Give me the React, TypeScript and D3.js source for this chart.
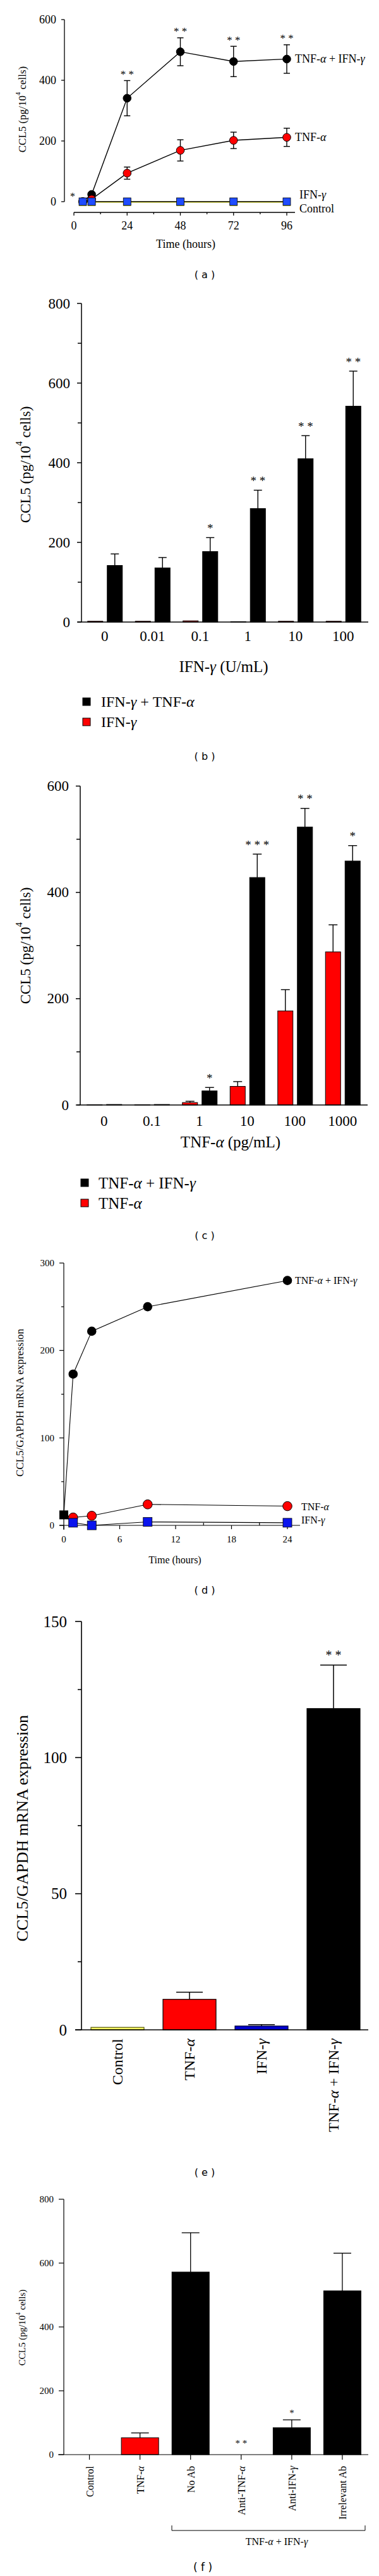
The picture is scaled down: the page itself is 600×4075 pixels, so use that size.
import React from "react";
import * as d3 from "d3";

const SERIF = "'Liberation Serif', 'Times New Roman', serif";
const SANS = "'DejaVu Sans', 'Liberation Sans', sans-serif";
const RED = "#ff0000";
const BLUE_A = "#1f4cff";
const BLUE_D = "#0a14ee";

// ---------- Panel (a): CCL5 protein over time ----------
const aTimes = [4, 8, 24, 48, 72, 96];
const aCombo = [0, 24, 341, 494, 462, 470];
const aComboErr = [0, 0, 58, 46, 50, 47];
const aComboStars = ["", "", "* *", "* *", "* *", "* *"];
const aTnf = [0, 8, 94, 169, 202, 212];
const aTnfErr = [0, 0, 20, 35, 27, 30];
const aIfn = [0, 0, 0, 0, 0, 0];
const aCtrl = [0, 0, 0, 0, 0, 0];
const aYTicks = [0, 200, 400, 600];
const aXTicks = [0, 24, 48, 72, 96];
const aXMinor = [12, 36, 60, 84];

// ---------- Panel (b): IFN-γ dose ----------
const bCats = ["0", "0.01", "0.1", "1", "10", "100"];
const bCombo = [142, 136, 177, 285, 410, 542];
const bComboErr = [29, 26, 35, 46, 58, 88];
const bIfn = [2, 2, 3, 1, 2, 2];
const bStars = ["", "", "*", "* *", "* *", "* *"];
const bYTicks = [0, 200, 400, 600, 800];
const bYMinor = [100, 300, 500, 700];

// ---------- Panel (c): TNF-α dose ----------
const cCats = ["0", "0.1", "1", "10", "100", "1000"];
const cTnf = [0.5, 0.5, 4.6, 35, 177, 288];
const cTnfErr = [0, 0, 2.4, 9, 40, 51];
const cCombo = [1, 1, 26.5, 428, 523, 459];
const cComboErr = [0, 0, 6.5, 44, 35, 29];
const cStars = ["", "", "*", "* * *", "* *", "*"];
const cYTicks = [0, 200, 400, 600];
const cYMinor = [100, 300, 500];

// ---------- Panel (d): mRNA over time ----------
const dTimes = [0, 1, 3, 9, 24];
const dCombo = [12, 173, 222, 250, 280];
const dTnf = [12, 9, 11, 24, 22];
const dIfn = [12, 3, 0, 4, 3];
const dYTicks = [0, 100, 200, 300];
const dYMinor = [50, 150, 250];
const dXTicks = [0, 6, 12, 18, 24];
const dXMinor = [3, 9, 15, 21];

// ---------- Panel (e): mRNA by treatment ----------
const eCats = ["Control", "TNF-α", "IFN-γ", "TNF-α + IFN-γ"];
const eVals = [0.9, 11.2, 1.4, 118];
const eErr = [0, 2.6, 0.5, 16];
const eColors = ["#ffff66", RED, "#0000cc", "#000000"];
const eStroke = ["#555500", "#000", "#000033", "#000"];
const eStars = ["", "", "", "* *"];
const eYTicks = [0, 50, 100, 150];
const eYMinor = [25, 75, 125];

// ---------- Panel (f): neutralising antibodies ----------
const fCats = ["Control", "TNF-α", "No Ab", "Anti-TNF-α", "Anti-IFN-γ", "Irrelevant Ab"];
const fVals = [0, 53, 572, 0, 84.5, 513];
const fErr = [0, 15, 123, 0, 24.5, 118];
const fColors = ["#000", RED, "#000", "#000", "#000", "#000"];
const fStars = ["", "", "", "* *", "*", ""];
const fStarVal = [0, 0, 0, 40, 135, 0];
const fYTicks = [0, 200, 400, 600, 800];

function G({ s }: { s: string }) {
  const parts = s.split(/([αγ])/);
  return (
    <>
      {parts.map((p, i) =>
        p === "α" || p === "γ" ? (
          <tspan key={i} fontStyle="italic">{p}</tspan>
        ) : p ? (
          <tspan key={i}>{p}</tspan>
        ) : null
      )}
    </>
  );
}

function CclLabel({ x, y, size }: { x: number; y: number; size: number }) {
  return (
    <text
      transform={`translate(${x},${y}) rotate(-90)`}
      textAnchor="middle"
      dominantBaseline="central"
      fontSize={size}
      fontFamily={SERIF}
    >
      CCL5 (pg/10
      <tspan dy={-size * 0.42} fontSize={size * 0.62}>4</tspan>
      <tspan dy={size * 0.42}> cells)</tspan>
    </text>
  );
}

function PanelLabel({ x, y, t }: { x: number; y: number; t: string }) {
  return (
    <text x={x} y={y} textAnchor="middle" dominantBaseline="central" fontFamily={SANS} fontSize={16}>
      {`( ${t} )`}
    </text>
  );
}

function Star({ x, y, s, fs }: { x: number; y: number; s: string; fs: number }) {
  return (
    <text x={x} y={y + fs * 0.5} textAnchor="middle" fontSize={fs} fontFamily={SERIF}>
      {s}
    </text>
  );
}

function PanelA() {
  const x = d3.scaleLinear().domain([0, 96]).range([117, 454]);
  const y = d3.scaleLinear().domain([0, 600]).range([319, 31]);
  const mk = (vals: number[]) =>
    d3.line<number>().x((_, i) => x(aTimes[i])).y((v) => y(v))(vals) || "";
  const fs = 18;
  const sw = 1.3;
  return (
    <g fontFamily={SERIF}>
      <line x1={102} x2={102} y1={y(600)} y2={y(0)} stroke="#000" strokeWidth={sw} />
      {aYTicks.map((t) => (
        <g key={t}>
          <line x1={97} x2={102} y1={y(t)} y2={y(t)} stroke="#000" strokeWidth={sw} />
          <text x={89} y={y(t)} textAnchor="end" dominantBaseline="central" fontSize={fs}>{t}</text>
        </g>
      ))}
      <line x1={x(0)} x2={467} y1={336} y2={336} stroke="#000" strokeWidth={sw} />
      {aXTicks.map((t) => (
        <g key={t}>
          <line x1={x(t)} x2={x(t)} y1={336} y2={341} stroke="#000" strokeWidth={sw} />
          <text x={x(t)} y={357} textAnchor="middle" dominantBaseline="central" fontSize={fs}>{t}</text>
        </g>
      ))}
      {aXMinor.map((t) => (
        <line key={t} x1={x(t)} x2={x(t)} y1={336} y2={339} stroke="#000" strokeWidth={sw} />
      ))}
      <text x={294} y={386} textAnchor="middle" dominantBaseline="central" fontSize={fs}>Time (hours)</text>
      <CclLabel x={35} y={173} size={17} />

      <path d={mk(aCtrl)} stroke="#d8d800" strokeWidth={1.6} fill="none" transform="translate(0,0.6)" />
      <path d={mk(aIfn)} stroke="#000" strokeWidth={1.3} fill="none" />
      <path d={mk(aTnf)} stroke="#000" strokeWidth={1.4} fill="none" />
      <path d={mk(aCombo)} stroke="#000" strokeWidth={1.4} fill="none" />

      {[{ v: aCombo, e: aComboErr }, { v: aTnf, e: aTnfErr }].map((s, k) =>
        s.v.map((v, i) =>
          s.e[i] > 0 ? (
            <g key={`${k}-${i}`} stroke="#000" strokeWidth={1.4}>
              <line x1={x(aTimes[i])} x2={x(aTimes[i])} y1={y(v - s.e[i])} y2={y(v + s.e[i])} />
              <line x1={x(aTimes[i]) - 5} x2={x(aTimes[i]) + 5} y1={y(v + s.e[i])} y2={y(v + s.e[i])} />
              <line x1={x(aTimes[i]) - 5} x2={x(aTimes[i]) + 5} y1={y(v - s.e[i])} y2={y(v - s.e[i])} />
            </g>
          ) : null
        )
      )}
      {aCombo.map((v, i) =>
        aComboStars[i] ? (
          <Star key={i} x={x(aTimes[i])} y={y(v + aComboErr[i]) - 13} s={aComboStars[i]} fs={17} />
        ) : null
      )}
      <Star x={115} y={308} s="*" fs={16} />

      {aCombo.map((v, i) => (
        <circle key={`c${i}`} cx={x(aTimes[i])} cy={y(v)} r={6.3} fill="#000" stroke="#000" />
      ))}
      {aTnf.map((v, i) => (
        <circle key={`t${i}`} cx={x(aTimes[i])} cy={y(v)} r={6.3} fill={RED} stroke="#000" strokeWidth={1} />
      ))}
      {aCtrl.map((v, i) => (
        <rect key={`k${i}`} x={x(aTimes[i]) - 6} y={y(v) - 5} width={12} height={12} fill="#e6e600" />
      ))}
      {aIfn.map((v, i) => (
        <rect key={`f${i}`} x={x(aTimes[i]) - 6} y={y(v) - 6} width={12} height={12} fill={BLUE_A} stroke="#000" strokeWidth={0.8} />
      ))}

      <text x={467} y={93} dominantBaseline="central" fontSize={fs}><G s="TNF-α + IFN-γ" /></text>
      <text x={467} y={217} dominantBaseline="central" fontSize={fs}><G s="TNF-α" /></text>
      <text x={474} y={308} dominantBaseline="central" fontSize={fs}><G s="IFN-γ" /></text>
      <text x={474} y={330} dominantBaseline="central" fontSize={fs}>Control</text>
      <PanelLabel x={324} y={434} t="a" />
    </g>
  );
}

function GroupedBars({
  cats, blackV, blackE, redV, redE, stars, yTicks, yMinor, domMax, y0, yTop, axisX, xr, fs, capW,
}: any) {
  const x = d3.scaleBand<string>().domain(cats).range(xr);
  const y = d3.scaleLinear().domain([0, domMax]).range([y0, yTop]);
  const c = (cat: string) => (x(cat) || 0) + x.bandwidth() / 2;
  const sw = 1.5;
  return (
    <g fontFamily={SERIF}>
      <line x1={axisX} x2={axisX} y1={yTop} y2={y0} stroke="#000" strokeWidth={sw} />
      {yTicks.map((t: number) => (
        <g key={t}>
          <line x1={axisX - 7} x2={axisX} y1={y(t)} y2={y(t)} stroke="#000" strokeWidth={sw} />
          <text x={axisX - 18} y={y(t)} textAnchor="end" dominantBaseline="central" fontSize={fs}>{t}</text>
        </g>
      ))}
      {yMinor.map((t: number) => (
        <line key={t} x1={axisX - 6} x2={axisX} y1={y(t)} y2={y(t)} stroke="#000" strokeWidth={sw} />
      ))}
      {cats.map((cat: string, i: number) => {
        const cx = c(cat);
        const rv = redV[i];
        const bv = blackV[i];
        const re = redE ? redE[i] : 0;
        const be = blackE[i];
        return (
          <g key={cat}>
            {re > 0 && (
              <g stroke="#000" strokeWidth={1.4}>
                <line x1={cx - 15} x2={cx - 15} y1={y(rv)} y2={y(rv + re)} />
                <line x1={cx - 15 - capW / 2} x2={cx - 15 + capW / 2} y1={y(rv + re)} y2={y(rv + re)} />
              </g>
            )}
            <rect x={cx - 27} y={y(rv)} width={24} height={y(0) - y(rv)} fill={RED} stroke="#000" strokeWidth={1} />
            {be > 0 && (
              <g stroke="#000" strokeWidth={1.4}>
                <line x1={cx + 16} x2={cx + 16} y1={y(bv)} y2={y(bv + be)} />
                <line x1={cx + 16 - capW / 2} x2={cx + 16 + capW / 2} y1={y(bv + be)} y2={y(bv + be)} />
              </g>
            )}
            <rect x={cx + 4} y={y(bv)} width={24} height={y(0) - y(bv)} fill="#000" stroke="#000" strokeWidth={1} />
            {stars[i] && <Star x={cx + 16} y={y(bv + be) - 18} s={stars[i]} fs={19} />}
          </g>
        );
      })}
      <line x1={xr[0] - 5} x2={xr[1] + 2} y1={y0} y2={y0} stroke="#000" strokeWidth={sw} />
    </g>
  );
}

function PanelB() {
  const x = d3.scaleBand<string>().domain(bCats).range([128, 581]);
  const fs = 23;
  return (
    <g fontFamily={SERIF}>
      <GroupedBars
        cats={bCats} blackV={bCombo} blackE={bComboErr} redV={bIfn} redE={null}
        stars={bStars} yTicks={bYTicks} yMinor={bYMinor} domMax={800}
        y0={984} yTop={480} axisX={129} xr={[128, 581]} fs={fs} capW={13}
      />
      {bCats.map((cat) => (
        <text key={cat} x={(x(cat) || 0) + x.bandwidth() / 2} y={1006} textAnchor="middle" dominantBaseline="central" fontSize={fs}>{cat}</text>
      ))}
      <text x={354} y={1054} textAnchor="middle" dominantBaseline="central" fontSize={25}><G s="IFN-γ (U/mL)" /></text>
      <CclLabel x={40} y={735} size={23} />
      <rect x={131} y={1104} width={12} height={12} fill="#000" stroke="#000" />
      <text x={160} y={1110} dominantBaseline="central" fontSize={24}><G s="IFN-γ + TNF-α" /></text>
      <rect x={131} y={1136} width={12} height={12} fill={RED} stroke="#000" />
      <text x={160} y={1142} dominantBaseline="central" fontSize={24}><G s="IFN-γ" /></text>
      <PanelLabel x={324} y={1196} t="b" />
    </g>
  );
}

function PanelC() {
  const x = d3.scaleBand<string>().domain(cCats).range([127, 580]);
  const fs = 23;
  return (
    <g fontFamily={SERIF}>
      <GroupedBars
        cats={cCats} blackV={cCombo} blackE={cComboErr} redV={cTnf} redE={cTnfErr}
        stars={cStars} yTicks={cYTicks} yMinor={cYMinor} domMax={600}
        y0={1748} yTop={1243.5} axisX={127} xr={[127, 580]} fs={fs} capW={14}
      />
      {cCats.map((cat) => (
        <text key={cat} x={(x(cat) || 0) + x.bandwidth() / 2} y={1773} textAnchor="middle" dominantBaseline="central" fontSize={fs}>{cat}</text>
      ))}
      <text x={365} y={1806} textAnchor="middle" dominantBaseline="central" fontSize={25}><G s="TNF-α (pg/mL)" /></text>
      <CclLabel x={40} y={1496} size={23} />
      <rect x={128} y={1865} width={12} height={12} fill="#000" stroke="#000" />
      <text x={156} y={1871} dominantBaseline="central" fontSize={25}><G s="TNF-α + IFN-γ" /></text>
      <rect x={128} y={1897} width={12} height={12} fill={RED} stroke="#000" />
      <text x={156} y={1903} dominantBaseline="central" fontSize={25}><G s="TNF-α" /></text>
      <PanelLabel x={324} y={1954} t="c" />
    </g>
  );
}

function PanelD() {
  const x = d3.scaleLinear().domain([0, 24]).range([101, 455]);
  const y = d3.scaleLinear().domain([0, 300]).range([2413, 1998]);
  const mk = (vals: number[]) =>
    d3.line<number>().x((_, i) => x(dTimes[i])).y((v) => y(v))(vals) || "";
  const fs = 15;
  const sw = 1.2;
  return (
    <g fontFamily={SERIF}>
      <line x1={101} x2={101} y1={y(300)} y2={y(0) + 7} stroke="#000" strokeWidth={sw} />
      {dYTicks.map((t) => (
        <g key={t}>
          <line x1={94} x2={101} y1={y(t)} y2={y(t)} stroke="#000" strokeWidth={sw} />
          <text x={86} y={y(t)} textAnchor="end" dominantBaseline="central" fontSize={fs}>{t}</text>
        </g>
      ))}
      {dYMinor.map((t) => (
        <line key={t} x1={97} x2={101} y1={y(t)} y2={y(t)} stroke="#000" strokeWidth={sw} />
      ))}
      <line x1={94} x2={475} y1={y(0)} y2={y(0)} stroke="#000" strokeWidth={sw} />
      {dXTicks.map((t) => (
        <g key={t}>
          <line x1={x(t)} x2={x(t)} y1={y(0)} y2={y(0) + 6} stroke="#000" strokeWidth={sw} />
          <text x={x(t)} y={2435} textAnchor="middle" dominantBaseline="central" fontSize={fs}>{t}</text>
        </g>
      ))}
      {dXMinor.map((t) => (
        <line key={t} x1={x(t)} x2={x(t)} y1={y(0)} y2={y(0) - 4} stroke="#000" strokeWidth={sw} />
      ))}
      <text x={277} y={2467} textAnchor="middle" dominantBaseline="central" fontSize={16}>Time (hours)</text>
      <text transform="translate(31,2219) rotate(-90)" textAnchor="middle" dominantBaseline="central" fontSize={17}>CCL5/GAPDH mRNA expression</text>

      <path d={mk(dCombo)} stroke="#000" strokeWidth={1.1} fill="none" />
      <path d={mk(dTnf)} stroke="#000" strokeWidth={1.1} fill="none" />
      <path d={mk(dIfn)} stroke="#000" strokeWidth={1.1} fill="none" />

      {dCombo.map((v, i) =>
        i > 0 ? <circle key={`c${i}`} cx={x(dTimes[i])} cy={y(v)} r={7.3} fill="#000" /> : null
      )}
      {dTnf.map((v, i) =>
        i > 0 ? <circle key={`t${i}`} cx={x(dTimes[i])} cy={y(v)} r={7.3} fill={RED} stroke="#000" strokeWidth={1} /> : null
      )}
      {dIfn.map((v, i) =>
        i > 0 ? (
          <rect key={`f${i}`} x={x(dTimes[i]) - 7} y={y(v) - 7} width={14} height={14} fill={BLUE_D} stroke="#000" strokeWidth={0.8} />
        ) : null
      )}
      <rect x={x(dTimes[0]) - 7} y={y(dCombo[0]) - 7} width={14} height={14} fill="#000" />

      <text x={467} y={2025} dominantBaseline="central" fontSize={16}><G s="TNF-α + IFN-γ" /></text>
      <text x={477} y={2383} dominantBaseline="central" fontSize={16}><G s="TNF-α" /></text>
      <text x={477} y={2404} dominantBaseline="central" fontSize={16}><G s="IFN-γ" /></text>
      <PanelLabel x={324} y={2515} t="d" />
    </g>
  );
}

function PanelE() {
  const x = d3.scaleBand<string>().domain(eCats).range([129, 585]);
  const y = d3.scaleLinear().domain([0, 150]).range([3211, 2565]);
  const bw = 84;
  const sw = 1.6;
  return (
    <g fontFamily={SERIF}>
      <line x1={129} x2={129} y1={y(150)} y2={y(0)} stroke="#000" strokeWidth={sw} />
      {eYTicks.map((t) => (
        <g key={t}>
          <line x1={119} x2={129} y1={y(t)} y2={y(t)} stroke="#000" strokeWidth={sw} />
          <text x={106} y={y(t)} textAnchor="end" dominantBaseline="central" fontSize={25}>{t}</text>
        </g>
      ))}
      {eYMinor.map((t) => (
        <line key={t} x1={123} x2={129} y1={y(t)} y2={y(t)} stroke="#000" strokeWidth={sw} />
      ))}
      {eCats.map((cat, i) => {
        const cx = (x(cat) || 0) + x.bandwidth() / 2;
        return (
          <g key={cat}>
            {eErr[i] > 0 && (
              <g stroke="#000" strokeWidth={1.5}>
                <line x1={cx} x2={cx} y1={y(eVals[i])} y2={y(eVals[i] + eErr[i])} />
                <line x1={cx - 21} x2={cx + 21} y1={y(eVals[i] + eErr[i])} y2={y(eVals[i] + eErr[i])} />
              </g>
            )}
            <rect x={cx - bw / 2} y={y(eVals[i])} width={bw} height={y(0) - y(eVals[i])} fill={eColors[i]} stroke={eStroke[i]} strokeWidth={1.2} />
            {eStars[i] && <Star x={cx} y={y(eVals[i] + eErr[i]) - 19} s={eStars[i]} fs={20} />}
            <text transform={`translate(${cx},3225) rotate(-90)`} textAnchor="end" dominantBaseline="central" fontSize={24}>
              <G s={cat} />
            </text>
          </g>
        );
      })}
      <line x1={119} x2={583} y1={y(0)} y2={y(0)} stroke="#000" strokeWidth={sw} />
      <text transform="translate(35,2892) rotate(-90)" textAnchor="middle" dominantBaseline="central" fontSize={26}>CCL5/GAPDH mRNA expression</text>
      <PanelLabel x={324} y={3436} t="e" />
    </g>
  );
}

function PanelF() {
  const x = d3.scaleBand<string>().domain(fCats).range([101.5, 582]);
  const y = d3.scaleLinear().domain([0, 800]).range([3883, 3479]);
  const bw = 59;
  const sw = 1.2;
  return (
    <g fontFamily={SERIF}>
      <line x1={101} x2={101} y1={y(800)} y2={y(0)} stroke="#000" strokeWidth={sw} />
      {fYTicks.map((t) => (
        <g key={t}>
          <line x1={93} x2={101} y1={y(t)} y2={y(t)} stroke="#000" strokeWidth={sw} />
          <text x={85} y={y(t)} textAnchor="end" dominantBaseline="central" fontSize={15}>{t}</text>
        </g>
      ))}
      {fCats.map((cat, i) => {
        const cx = (x(cat) || 0) + x.bandwidth() / 2;
        const v = fVals[i];
        return (
          <g key={cat}>
            {fErr[i] > 0 && (
              <g stroke="#000" strokeWidth={1.3}>
                <line x1={cx} x2={cx} y1={y(v)} y2={y(v + fErr[i])} />
                <line x1={cx - 14} x2={cx + 14} y1={y(v + fErr[i])} y2={y(v + fErr[i])} />
              </g>
            )}
            {v > 0 && (
              <rect x={cx - bw / 2} y={y(v)} width={bw} height={y(0) - y(v)} fill={fColors[i]} stroke="#000" strokeWidth={1} />
            )}
            {fStars[i] && <Star x={cx} y={y(fStarVal[i])} s={fStars[i]} fs={15} />}
            <line x1={cx} x2={cx} y1={y(0)} y2={y(0) + 8} stroke="#000" strokeWidth={sw} />
            <text transform={`translate(${cx},3901) rotate(-90)`} textAnchor="end" dominantBaseline="central" fontSize={16}>
              <G s={cat} />
            </text>
          </g>
        );
      })}
      <line x1={92} x2={583} y1={y(0)} y2={y(0)} stroke="#000" strokeWidth={sw} />
      <CclLabel x={35} y={3682} size={15} />
      <path d="M272,3995 V4003 H578 V3995" stroke="#000" strokeWidth={1} fill="none" />
      <text x={438} y={4020} textAnchor="middle" dominantBaseline="central" fontSize={16}><G s="TNF-α + IFN-γ" /></text>
      <text x={321} y={4061} textAnchor="middle" dominantBaseline="central" fontFamily={SANS} fontSize={17}>( f )</text>
    </g>
  );
}

export default function App() {
  return (
    <div style={{ position: "absolute", left: 0, top: 0 }}>
      <svg width={600} height={4075} viewBox="0 0 600 4075" style={{ display: "block", background: "#fff" }}>
        <rect x={0} y={0} width={600} height={4075} fill="#fff" />
        <PanelA />
        <PanelB />
        <PanelC />
        <PanelD />
        <PanelE />
        <PanelF />
      </svg>
    </div>
  );
}
